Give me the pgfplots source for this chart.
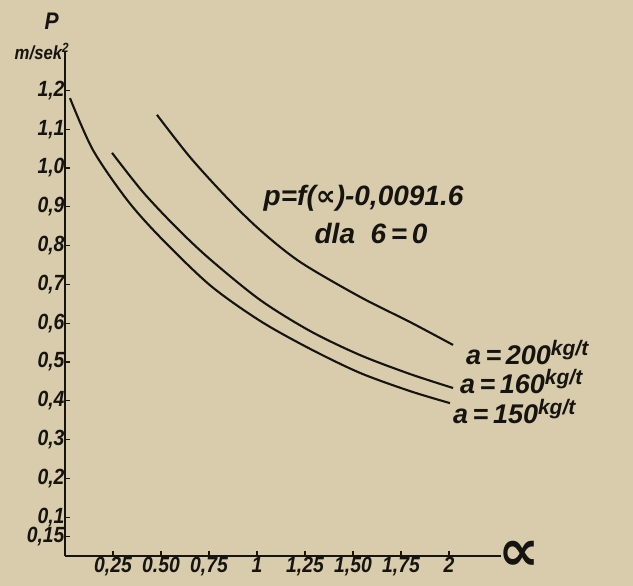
\documentclass[border=0pt]{standalone}
\usepackage{pgfplots}
\pgfplotsset{compat=1.18}
\usepackage{fontspec}
\newfontfamily\chartfont{Liberation Sans}[FakeStretch=0.88]
\newfontfamily\notefont{Liberation Sans}
\newfontfamily\symfont{DejaVu Sans}
\definecolor{paper}{RGB}{216,204,172}
\definecolor{ink}{RGB}{22,20,16}
\begin{document}
\begin{tikzpicture}
\fill[paper] (-65pt,-30pt) rectangle (568pt,556pt);
\useasboundingbox (-65pt,-30pt) rectangle (568pt,556pt);
\begin{axis}[
  at={(0pt,0pt)}, anchor=south west,
  x=192pt, y=388pt,
  xmin=0, xmax=2.27, ymin=0, ymax=1.30,
  axis lines=left,
  axis line style={-, line width=2pt, ink},
  clip=false,
  tick align=inside,
  major tick length=5pt,
  tick style={line width=1.3pt, ink},
  xtick={0.25,0.5,0.75,1,1.25,1.5,1.75,2},
  xticklabels={{0,25},{0.50},{0,75},{1},{1,25},{1,50},{1,75},{2}},
  ytick={0.05,0.1,0.2,0.3,0.4,0.5,0.6,0.7,0.8,0.9,1.0,1.1,1.2},
  yticklabels={{0,15},{0,1},{0,2},{0,3},{0,4},{0,5},{0,6},{0,7},{0,8},{0,9},{1,0},{1,1},{1,2}},
  tick label style={font=\chartfont\bfseries\itshape\fontsize{22}{22}\selectfont, text=ink},
  xticklabel style={yshift=2pt},
  yticklabel style={xshift=3pt},
]
\addplot[ink, line width=2.1pt, smooth] coordinates {
 (0.026,1.180) (0.146,1.046) (0.323,0.918) (0.495,0.822)
 (0.755,0.698) (1.016,0.606) (1.276,0.534) (1.536,0.472) (1.797,0.425) (2.005,0.394)
};
\addplot[ink, line width=2.1pt, smooth] coordinates {
 (0.245,1.039) (0.406,0.938) (0.583,0.845) (0.755,0.765) (1.016,0.660)
 (1.276,0.580) (1.536,0.518) (1.797,0.469) (2.021,0.433)
};
\addplot[ink, line width=2.1pt, smooth] coordinates {
 (0.479,1.137) (0.651,1.028) (0.844,0.923) (1.016,0.840) (1.224,0.758)
 (1.536,0.668) (1.797,0.603) (2.021,0.544)
};
\node[font=\notefont\bfseries\itshape\fontsize{28}{28}\selectfont, text=ink] at (axis cs:1.555,0.922) {p=f({\symfont\bfseries ∝})-0,0091.6};
\node[font=\notefont\bfseries\itshape\fontsize{28}{28}\selectfont, text=ink] at (axis cs:1.594,0.830) {dla \ 6\,=\,0};
\node[anchor=west, inner sep=0pt, font=\notefont\bfseries\itshape\fontsize{27}{27}\selectfont, text=ink] at (axis cs:2.088,0.525) {a\,=\,200\textsuperscript{\fontsize{21}{21}\selectfont kg/t}};
\node[anchor=west, inner sep=0pt, font=\notefont\bfseries\itshape\fontsize{27}{27}\selectfont, text=ink] at (axis cs:2.057,0.450) {a\,=\,160\textsuperscript{\fontsize{21}{21}\selectfont kg/t}};
\node[anchor=west, inner sep=0pt, font=\notefont\bfseries\itshape\fontsize{27}{27}\selectfont, text=ink] at (axis cs:2.021,0.372) {a\,=\,150\textsuperscript{\fontsize{21}{21}\selectfont kg/t}};
\node[text=ink, font=\symfont\bfseries\fontsize{58}{58}\selectfont] at (axis cs:2.365,0.0) {∝};
\node[font=\chartfont\bfseries\itshape\fontsize{24}{24}\selectfont, text=ink] at (axis cs:-0.07,1.378) {P};
\node[font=\chartfont\bfseries\itshape\fontsize{19}{19}\selectfont, text=ink] at (axis cs:-0.12,1.30) {m/sek\textsuperscript{2}};
\end{axis}
\end{tikzpicture}
\end{document}
